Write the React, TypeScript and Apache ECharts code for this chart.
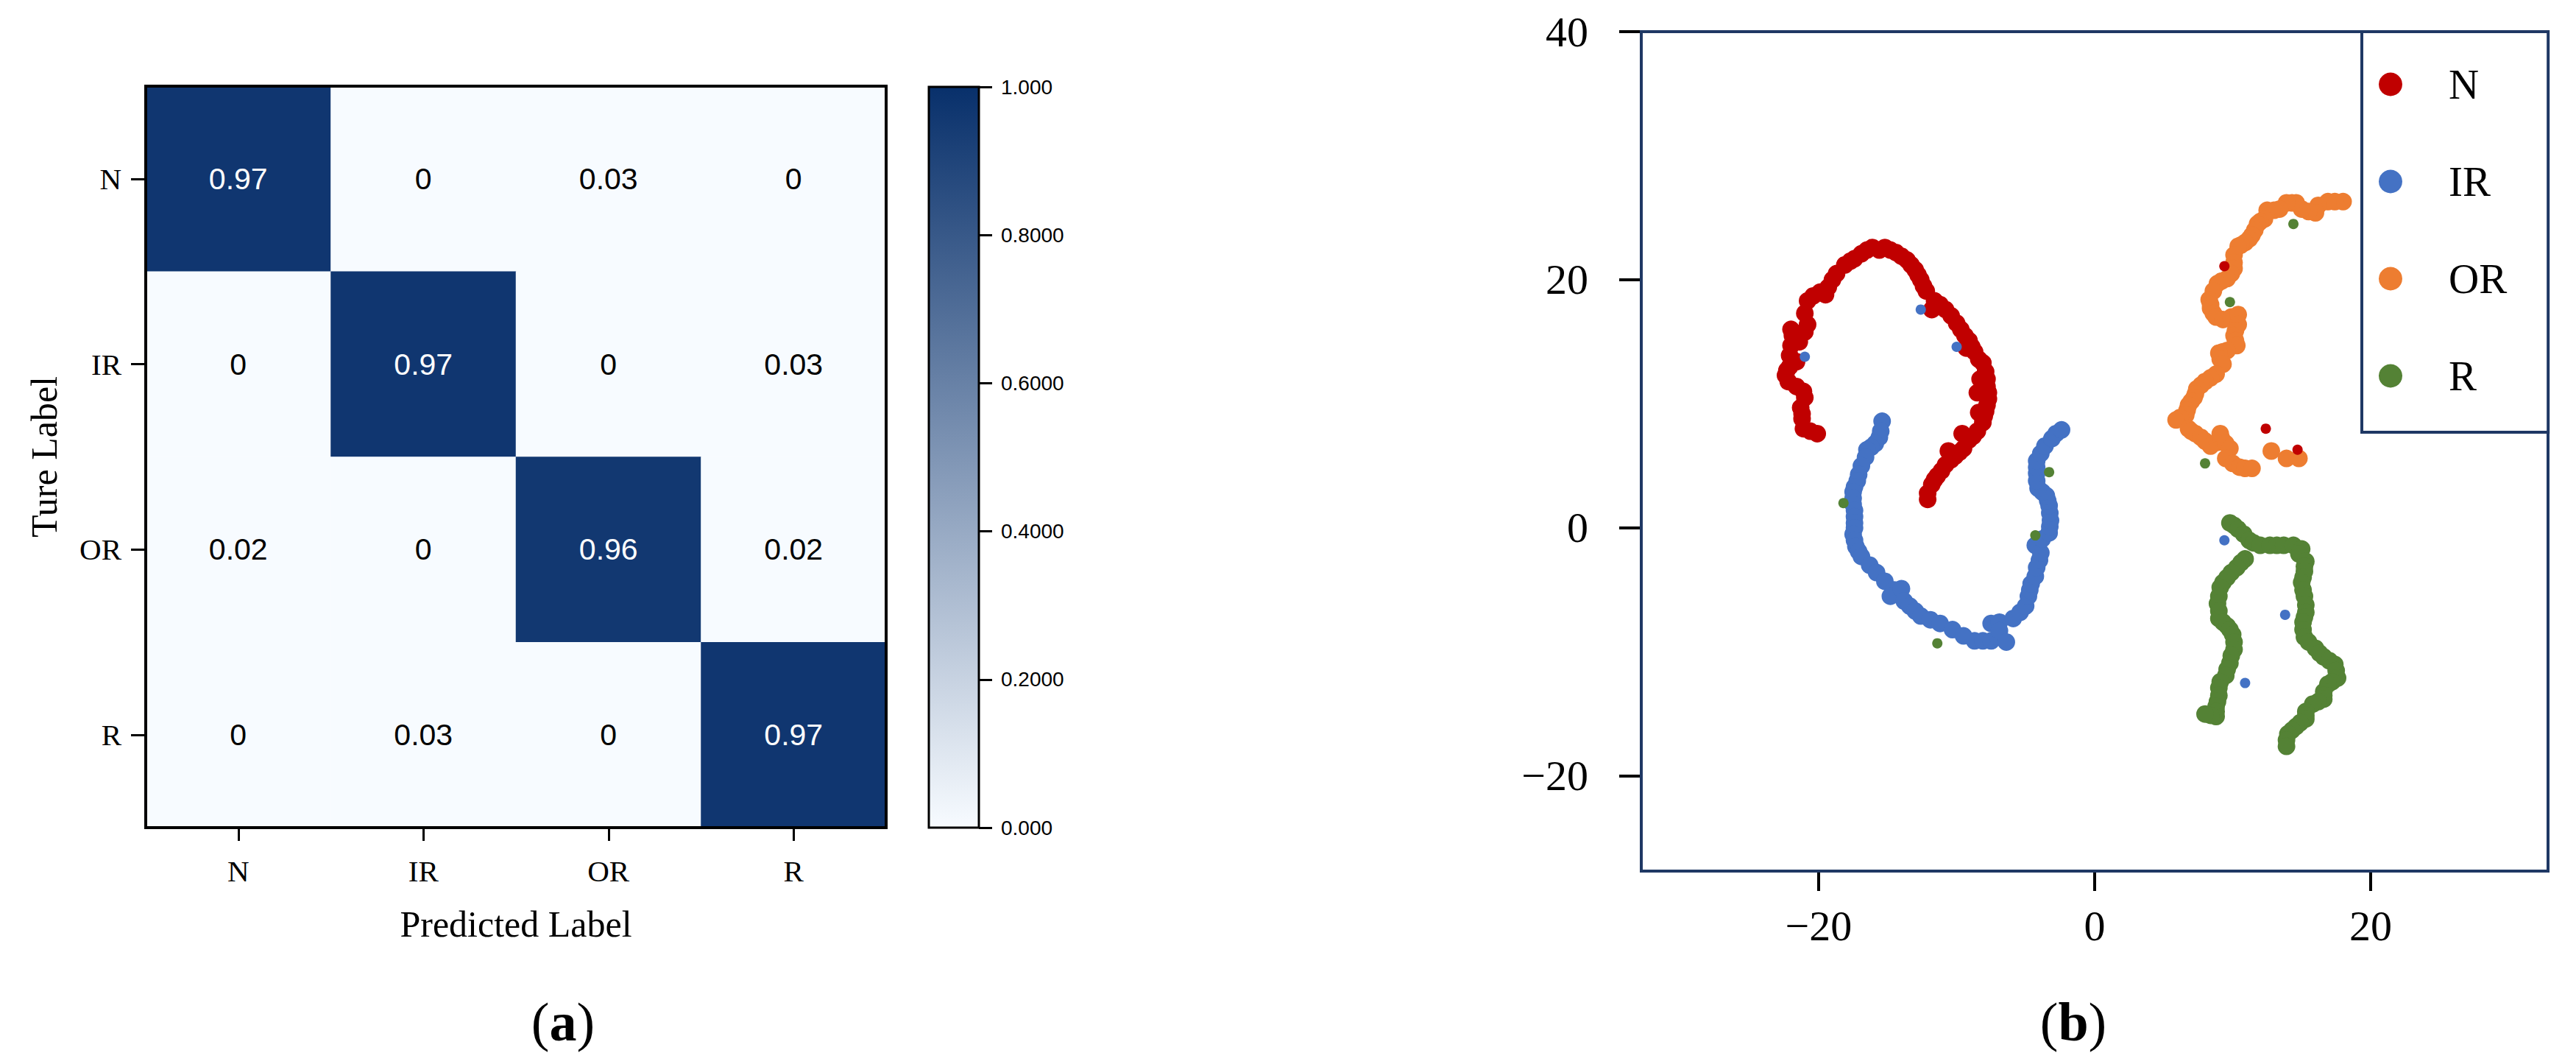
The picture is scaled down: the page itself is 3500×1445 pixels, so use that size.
import React, { useEffect, useRef } from 'react';
import * as echarts from 'echarts';

// ---------- data ----------
const classNames = ['N', 'IR', 'OR', 'R'];
// rows: true label, cols: predicted label
const confusion: number[][] = [
  [0.97, 0, 0.03, 0],
  [0, 0.97, 0, 0.03],
  [0.02, 0, 0.96, 0.02],
  [0, 0.03, 0, 0.97],
];
const colorbarValue = [1];
const colorbarTicks = [0, 0.2, 0.4, 0.6, 0.8, 1];
const colorbarLabels = ['0.000', '0.2000', '0.4000', '0.6000', '0.8000', '1.000'];

const xTicks = [-20, 0, 20];
const yTicks = [-20, 0, 20, 40];

const nMain: number[][] = [
  [-20.1, 7.6], [-20.6, 7.8], [-21.1, 8.0], [-21.2, 8.8], [-21.2, 9.2], [-21.3, 9.7], [-21.0, 10.5],
  [-21.1, 11.0], [-21.6, 11.4], [-22.2, 11.8], [-22.4, 12.3], [-22.3, 12.7], [-22.1, 13.0], [-21.6, 13.4],
  [-22.1, 13.9], [-22.0, 14.7], [-21.4, 15.0], [-21.9, 15.5], [-22.0, 16.0], [-21.0, 15.8], [-20.8, 16.4],
  [-21.0, 17.3], [-20.8, 18.3], [-20.4, 18.7], [-19.9, 19.0], [-19.5, 18.8], [-19.3, 19.4], [-19.0, 20.0],
  [-18.7, 20.5], [-18.1, 21.2], [-17.7, 21.5], [-17.4, 21.7], [-16.9, 22.1], [-16.5, 22.4], [-16.1, 22.6],
  [-15.6, 22.4], [-15.2, 22.6], [-14.8, 22.4], [-14.4, 22.2], [-14.0, 21.9], [-13.6, 21.6], [-13.3, 21.2],
  [-13.0, 20.8], [-12.8, 20.4], [-12.6, 20.0], [-12.4, 19.5], [-12.2, 19.1], [-11.8, 17.6], [-11.6, 18.3],
  [-11.2, 18.0], [-10.8, 17.6], [-10.4, 17.1], [-10.0, 16.5], [-9.7, 16.0], [-9.4, 15.5], [-9.3, 14.5],
  [-9.1, 15.1], [-8.9, 14.6], [-8.7, 14.2], [-8.4, 13.6], [-8.1, 13.3], [-7.9, 12.6], [-8.3, 12.0],
  [-7.8, 12.0], [-7.8, 11.4], [-8.5, 10.9], [-7.7, 10.9], [-7.7, 10.4], [-7.8, 9.9], [-7.9, 9.4],
  [-8.4, 9.3], [-8.0, 9.0], [-8.1, 8.5], [-8.5, 7.8], [-9.6, 7.6], [-8.8, 7.4], [-9.1, 7.1],
  [-9.5, 6.4], [-10.6, 6.2], [-9.8, 6.1], [-10.1, 5.8], [-10.4, 5.5], [-10.8, 5.1], [-11.1, 4.6],
  [-11.4, 4.2], [-11.6, 3.9], [-11.8, 3.5], [-12.1, 2.8], [-12.1, 2.3],
];
const irMain: number[][] = [
  [-15.4, 8.6], [-15.5, 7.8], [-15.6, 7.3], [-15.9, 6.8], [-16.2, 6.5], [-16.5, 6.3], [-16.6, 5.7],
  [-16.9, 5.0], [-17.1, 4.3], [-17.2, 3.8], [-17.4, 3.3], [-17.5, 2.9], [-17.5, 2.4], [-17.5, 1.9],
  [-17.4, 1.4], [-17.4, 0.9], [-17.4, 0.4], [-17.4, 0.0], [-17.5, -0.5], [-17.4, -1.0], [-17.3, -1.5],
  [-17.1, -1.9], [-16.9, -2.3], [-16.3, -3.0], [-15.8, -3.6], [-15.2, -4.3], [-14.5, -5.0], [-14.8, -5.5],
  [-14.0, -4.9], [-13.8, -5.9], [-13.4, -6.3], [-13.0, -6.7], [-12.6, -7.1], [-11.9, -7.4], [-11.2, -7.7],
  [-10.3, -8.2], [-9.5, -8.7], [-8.7, -9.1], [-8.1, -9.1], [-7.5, -9.1], [-7.0, -8.8], [-7.5, -7.7],
  [-6.9, -7.6], [-6.9, -8.3], [-6.4, -9.2], [-5.9, -7.3], [-5.4, -6.8], [-5.0, -6.3], [-4.8, -5.5],
  [-4.7, -5.0], [-4.6, -4.5], [-4.3, -3.9], [-4.2, -3.2], [-4.0, -2.6], [-3.9, -2.0], [-4.3, -1.4],
  [-3.8, -0.9], [-3.3, -0.4], [-3.25, 0.1], [-3.2, 0.6], [-3.25, 1.2], [-3.3, 1.8], [-3.4, 2.2],
  [-3.5, 2.6], [-3.8, 2.9], [-4.1, 3.2], [-4.2, 3.8], [-4.2, 4.4], [-4.2, 4.9], [-4.2, 5.4],
  [-3.9, 6.0], [-3.6, 6.6], [-3.1, 7.2], [-2.8, 7.6], [-2.4, 7.9],
];
const orMain: number[][] = [
  [18.0, 26.3], [17.4, 26.3], [16.9, 26.3], [16.2, 26.0], [16.0, 25.4], [15.5, 25.5], [15.0, 25.7],
  [14.6, 26.2], [14.3, 26.2], [13.9, 26.2], [13.4, 25.7], [13.0, 25.6], [12.5, 25.6], [12.3, 24.9],
  [12.0, 24.7], [11.8, 24.5], [11.6, 24.0], [11.4, 23.6], [11.2, 23.3], [10.9, 23.0], [10.6, 22.8],
  [10.4, 22.7], [10.1, 22.0], [10.1, 21.4], [10.1, 20.9], [9.9, 20.5], [9.6, 20.1], [9.2, 19.9],
  [8.9, 19.7], [8.6, 19.1], [8.3, 18.4], [8.4, 18.0], [8.4, 17.7], [8.6, 17.3], [8.8, 17.0],
  [9.3, 16.8], [9.9, 17.0], [10.4, 17.2], [10.4, 16.4], [10.2, 15.9], [10.1, 15.5], [10.2, 15.1],
  [10.3, 14.7], [9.6, 14.3], [9.3, 14.2], [9.0, 14.1], [9.1, 13.6], [9.3, 13.2], [8.8, 12.4],
  [8.4, 12.1], [8.0, 11.8], [7.7, 11.5], [7.4, 11.2], [7.3, 10.8], [7.2, 10.5], [7.0, 10.2],
  [6.8, 9.9], [6.7, 9.5], [6.6, 9.1], [6.2, 8.9], [5.9, 8.7], [6.8, 8.0], [7.0, 7.8], [7.3, 7.6],
  [7.7, 7.3], [8.0, 7.0], [8.4, 6.6], [8.9, 6.9], [9.2, 7.2], [9.1, 7.6], [9.5, 6.8], [9.8, 6.4],
  [9.5, 5.6], [10.0, 5.2], [10.5, 4.9], [10.9, 4.8], [11.4, 4.8], [12.8, 6.2], [13.9, 5.6], [14.8, 5.6],
];
const rMain: number[][] = [
  [9.8, 0.4], [10.1, 0.2], [10.4, -0.1], [10.8, -0.5], [11.2, -1.0], [11.5, -1.2], [12.0, -1.4],
  [12.7, -1.4], [13.2, -1.4], [13.7, -1.4], [14.4, -1.4], [15.0, -1.7], [14.8, -2.1], [15.3, -2.7],
  [15.2, -3.1], [15.2, -3.5], [15.1, -4.0], [15.0, -4.4], [15.1, -5.0], [15.2, -5.5], [15.3, -6.2],
  [15.3, -6.8], [15.2, -7.2], [15.1, -7.6], [15.1, -8.2], [15.2, -8.8], [15.5, -9.2], [16.0, -9.7],
  [16.3, -10.1], [16.6, -10.4], [17.0, -10.7], [17.4, -11.0], [17.5, -11.5], [17.6, -12.1], [17.2, -12.4],
  [16.9, -12.6], [16.6, -13.2], [16.6, -13.5], [16.6, -13.8], [16.2, -14.0], [15.8, -14.2], [15.3, -14.8],
  [15.3, -15.1], [15.3, -15.4], [14.9, -15.7], [14.6, -16.0], [14.3, -16.3], [14.0, -16.6], [13.9, -17.1],
  [13.9, -17.6],
  [10.9, -2.5], [10.6, -2.8], [10.3, -3.2], [9.9, -3.6], [9.6, -4.0], [9.3, -4.4], [9.1, -4.8],
  [9.0, -5.5], [8.9, -6.1], [9.0, -6.7], [9.0, -7.3], [9.3, -7.6], [9.6, -7.9], [9.8, -8.2],
  [10.0, -8.6], [10.1, -9.2], [10.1, -9.8], [9.9, -10.3], [9.8, -10.9], [9.6, -11.4], [9.5, -11.9],
  [9.1, -12.4], [9.0, -12.9], [9.0, -13.5], [8.9, -14.0], [8.8, -14.4], [8.8, -14.8], [8.8, -15.2],
  [8.4, -15.1], [8.0, -15.0],
];
const nStray: number[][] = [[9.4, 21.1], [12.4, 8.0], [14.7, 6.3]];
const irStray: number[][] = [[-12.6, 17.6], [-10.0, 14.6], [-21.0, 13.8], [9.4, -1.0], [13.8, -7.0], [10.9, -12.5]];
const orStray: number[][] = [];
const rStray: number[][] = [[-18.2, 2.0], [-3.3, 4.5], [-4.3, -0.6], [-11.4, -9.3], [9.8, 18.2], [14.4, 24.5], [8.0, 5.2]];

const classColors = ['#c00000', '#4472c4', '#ed7d31', '#548235'];

const serif = 'Liberation Serif';
const sans = 'Liberation Sans';

const minus = (v: number) => (v < 0 ? '\u2212' + Math.abs(v) : String(v));

// colour ramp (style): the lowest band stays at the lightest colour, like the banded colour bar
const LIGHT = [247, 251, 255];
const DARK = [8, 48, 107];
function rampColors(): string[] {
  const out: string[] = [];
  const n = 25;
  for (let k = 0; k <= n; k++) {
    const t = Math.max(0, (k / n - 0.04) / 0.96);
    const c = LIGHT.map((l, i) => Math.round(l + (DARK[i] - l) * t));
    out.push(`rgb(${c[0]},${c[1]},${c[2]})`);
  }
  return out;
}

export default function App() {
  const ref = useRef<HTMLDivElement>(null);

  useEffect(() => {
    if (!ref.current) return;
    const chart = echarts.init(ref.current, null, { renderer: 'svg' });

    const heatData: any[] = [];
    confusion.forEach((row, i) => {
      row.forEach((v, j) => {
        heatData.push({ value: [j, i, v], label: { color: v > 0.5 ? '#ffffff' : '#000000' } });
      });
    });

    const mains = [nMain, irMain, orMain, rMain];
    const strays = [nStray, irStray, orStray, rStray];

    const scatterSeries: any[] = [];
    classNames.forEach((name, k) => {
      scatterSeries.push({
        type: 'scatter', name, xAxisIndex: 2, yAxisIndex: 2,
        data: mains[k], symbol: 'circle', symbolSize: 24,
        itemStyle: { color: classColors[k], opacity: 1 }, z: 2,
      });
    });
    classNames.forEach((name, k) => {
      scatterSeries.push({
        type: 'scatter', name, xAxisIndex: 2, yAxisIndex: 2,
        data: strays[k], symbol: 'circle', symbolSize: 14,
        itemStyle: { color: classColors[k], opacity: 1 }, z: 3,
      });
    });

    const option: any = {
      animation: false,
      backgroundColor: '#ffffff',
      grid: [
        { left: 198, top: 117, width: 1006, height: 1007, show: true, borderColor: '#000', borderWidth: 4, backgroundColor: 'transparent', z: 10 },
        { left: 1262, top: 118, width: 68, height: 1006, show: true, borderColor: '#000', borderWidth: 3, backgroundColor: 'transparent', z: 10 },
        { left: 2230, top: 43, width: 1232, height: 1140, show: true, borderColor: '#1f3864', borderWidth: 4, backgroundColor: 'transparent', z: 10 },
      ],
      visualMap: {
        show: false, min: 0, max: 1, seriesIndex: 0, dimension: 2,
        inRange: { color: rampColors() },
      },
      xAxis: [
        {
          gridIndex: 0, type: 'category', data: classNames, position: 'bottom',
          axisLine: { show: false },
          axisTick: { show: true, alignWithLabel: true, length: 18, lineStyle: { color: '#000', width: 3 } },
          axisLabel: { margin: 38, fontSize: 41, fontFamily: serif, color: '#000' },
          splitLine: { show: false },
          name: 'Predicted Label', nameLocation: 'middle', nameGap: 106,
          nameTextStyle: { fontSize: 50, fontFamily: serif, color: '#000' },
        },
        {
          gridIndex: 1, type: 'category', data: ['cb'], show: false,
        },
        {
          gridIndex: 2, type: 'value', min: -32.85, max: 32.85, position: 'bottom',
          axisLine: { show: false, onZero: false },
          axisTick: { show: true, customValues: xTicks, length: 27, lineStyle: { color: '#000', width: 4 } },
          axisLabel: { customValues: xTicks, formatter: minus, margin: 45, fontSize: 58, fontFamily: serif, color: '#000' },
          splitLine: { show: false },
        },
      ],
      yAxis: [
        {
          gridIndex: 0, type: 'category', data: classNames, inverse: true,
          axisLine: { show: false },
          axisTick: { show: true, alignWithLabel: true, length: 20, lineStyle: { color: '#000', width: 3 } },
          axisLabel: { margin: 33, fontSize: 41, fontFamily: serif, color: '#000' },
          splitLine: { show: false },
          name: 'Ture Label', nameLocation: 'middle', nameGap: 113, nameRotate: 90,
          nameTextStyle: { fontSize: 50, fontFamily: serif, color: '#000' },
        },
        {
          gridIndex: 1, type: 'value', min: 0, max: 1, interval: 0.2, position: 'right',
          axisLine: { show: false },
          axisTick: { show: true, length: 18, lineStyle: { color: '#000', width: 3 } },
          axisLabel: {
            margin: 30, fontSize: 28, fontFamily: sans, color: '#000',
            formatter: (v: number) => {
              const idx = colorbarTicks.findIndex((t) => Math.abs(t - v) < 1e-6);
              return idx >= 0 ? colorbarLabels[idx] : '';
            },
          },
          splitLine: { show: false },
        },
        {
          gridIndex: 2, type: 'value', min: -27.66, max: 40, position: 'left',
          axisLine: { show: false, onZero: false },
          axisTick: { show: true, customValues: yTicks, length: 30, lineStyle: { color: '#000', width: 4 } },
          axisLabel: { customValues: yTicks, formatter: minus, margin: 72, fontSize: 58, fontFamily: serif, color: '#000' },
          splitLine: { show: false },
        },
      ],
      legend: {
        data: classNames, orient: 'vertical', left: 3209, top: 43,
        padding: [43, 56, 48, 23], itemWidth: 32, itemHeight: 32, itemGap: 75, icon: 'circle',
        backgroundColor: '#ffffff', borderColor: '#1f3864', borderWidth: 4, borderRadius: 0,
        textStyle: { fontSize: 57, fontFamily: serif, color: '#000', lineHeight: 32, padding: [0, 0, 0, 58] },
        selectedMode: false, z: 12,
      },
      series: [
        {
          type: 'heatmap', xAxisIndex: 0, yAxisIndex: 0, data: heatData,
          label: { show: true, formatter: (p: any) => String(p.value[2]), fontSize: 41, fontFamily: sans },
          itemStyle: { borderWidth: 0 },
        },
        {
          type: 'bar', xAxisIndex: 1, yAxisIndex: 1, data: colorbarValue, barWidth: '100%', silent: true,
          itemStyle: {
            color: new echarts.graphic.LinearGradient(0, 0, 0, 1, [
              { offset: 0, color: '#08306b' },
              { offset: 1, color: '#f7fbff' },
            ]),
          },
        },
        ...scatterSeries,
      ],
      graphic: [
        {
          type: 'text', x: 765, y: 1388,
          style: {
            text: '{p|(}{b|a}{p|)}', align: 'center', verticalAlign: 'middle',
            rich: {
              p: { fontSize: 74, fontFamily: serif, fill: '#000' },
              b: { fontSize: 74, fontFamily: serif, fontWeight: 'bold', fill: '#000' },
            },
          },
        },
        {
          type: 'text', x: 2817, y: 1388,
          style: {
            text: '{p|(}{b|b}{p|)}', align: 'center', verticalAlign: 'middle',
            rich: {
              p: { fontSize: 74, fontFamily: serif, fill: '#000' },
              b: { fontSize: 74, fontFamily: serif, fontWeight: 'bold', fill: '#000' },
            },
          },
        },
      ],
    };

    chart.setOption(option);
    return () => chart.dispose();
  }, []);

  return (
    <div
      ref={ref}
      style={{ position: 'absolute', left: 0, top: 0, width: 3500, height: 1445, background: '#fff' }}
    />
  );
}
